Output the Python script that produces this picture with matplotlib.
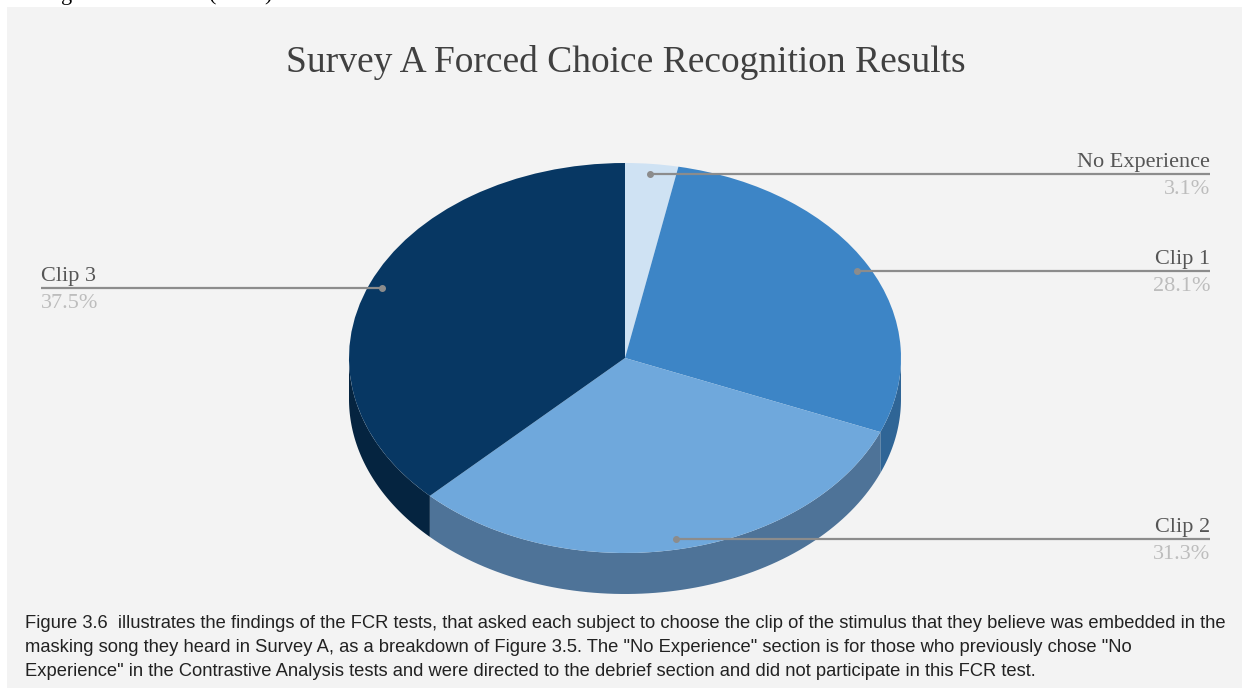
import numpy as np
import matplotlib
matplotlib.use("Agg")
import matplotlib.pyplot as plt

W, H = 1244, 688

labels = ["No Experience", "Clip 1", "Clip 2", "Clip 3"]
values = [3.1, 28.1, 31.3, 37.5]
pct_labels = ["3.1%", "28.1%", "31.3%", "37.5%"]
colors = ["#cfe2f3", "#3d85c6", "#6fa8dc", "#073763"]
side_colors = ["#a0b2c2", "#2f6596", "#4e7398", "#052440"]

title = "Survey A Forced Choice Recognition Results"
caption = [
    "Figure 3.6  illustrates the findings of the FCR tests, that asked each subject to choose the clip of the stimulus that they believe was embedded in the",
    "masking song they heard in Survey A, as a breakdown of Figure 3.5. The \"No Experience\" section is for those who previously chose \"No",
    "Experience\" in the Contrastive Analysis tests and were directed to the debrief section and did not participate in this FCR test.",
]

# only the descenders of the page line above the chart are visible
cut_glyphs = ["g", "(", ")"]
cut_x = [67, 213, 268]

# pie geometry in pixels
cx, cy, rx, ry, depth = 625, 358, 276, 195, 41

fig = plt.figure(figsize=(W / 100, H / 100), dpi=100, facecolor="white")

# whole-figure axes working in pixels, y going down
bg = fig.add_axes([0, 0, 1, 1])
bg.set_xlim(0, W)
bg.set_ylim(H, 0)
bg.axis("off")
bg.add_patch(plt.Rectangle((7, 7), 1235, H - 7, color="#f3f3f3", lw=0))

# squashed pie axes, unit circle maps to the top ellipse
pie_ax = fig.add_axes([(cx - 1.3 * rx) / W, 1 - (cy + 1.3 * ry) / H, 2.6 * rx / W, 2.6 * ry / H])
pie_ax.pie(values, colors=colors, startangle=90, counterclock=False, radius=1.0)
pie_ax.set_aspect("auto")
pie_ax.set_xlim(-1.3, 1.3)
pie_ax.set_ylim(-1.3, 1.3)
pie_ax.patch.set_alpha(0)

# rim of the disc, only the part of each slice on the front half shows
d = depth / ry
edges = 90 - np.cumsum([0] + values) * 3.6
for i in range(len(values)):
    a0 = max(edges[i + 1], -180)
    a1 = min(edges[i], 0)
    if a1 <= a0:
        continue
    t = np.radians(np.linspace(a0, a1, 80))
    xs = np.r_[np.cos(t), np.cos(t)[::-1]]
    ys = np.r_[np.sin(t), np.sin(t)[::-1] - d]
    pie_ax.fill(xs, ys, color=side_colors[i], lw=0, zorder=0.5)

# overlay for leaders and text
ov = fig.add_axes([0, 0, 1, 1])
ov.set_xlim(0, W)
ov.set_ylim(H, 0)
ov.axis("off")
ov.patch.set_alpha(0)

leader_y = [174, 271, 539, 288]
leader_from = [650, 857, 676, 382]
leader_to = [1210, 1210, 1210, 41]
for i in range(4):
    ov.plot([leader_from[i], leader_to[i]], [leader_y[i], leader_y[i]], color="#8c8c8c", lw=1.6, solid_capstyle="butt")
    ov.plot(leader_from[i], leader_y[i], "o", color="#8c8c8c", ms=4)
    right = leader_to[i] > leader_from[i]
    x = leader_to[i]
    ha = "right" if right else "left"
    ov.text(x, leader_y[i] - 2, labels[i], ha=ha, va="bottom", family="Liberation Serif", fontsize=16, color="#555555")
    ov.text(x, leader_y[i] + 6, pct_labels[i], ha=ha, va="top", family="Liberation Serif", fontsize=16, color="#bdbdbd")

ov.text(625.5, 62, title, ha="center", va="center", family="Liberation Serif", fontsize=27, color="#404040")

for i, line in enumerate(caption):
    ov.text(25, 624 + i * 24, line, ha="left", va="center", family="Liberation Sans", fontsize=13.2, color="#222222")

for g, x in zip(cut_glyphs, cut_x):
    ov.text(x, 0, g, ha="center", va="baseline", family="Liberation Serif", fontsize=16, color="black", clip_on=True)

fig.savefig("out.png", dpi=100)
